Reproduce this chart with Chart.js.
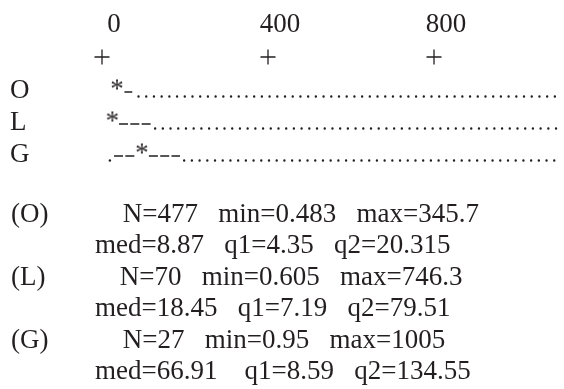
<!DOCTYPE html>
<html>
<head>
<meta charset="utf-8">
<script src="https://cdn.jsdelivr.net/npm/chart.js@4.4.1/dist/chart.umd.min.js"></script>
<style>
  html, body { margin: 0; padding: 0; background: #fff; }
  #wrap { position: relative; width: 564px; height: 389px; overflow: hidden; }
  #chart { position: absolute; left: 0; top: 0; }
  .stat {
    position: absolute;
    font-family: "Liberation Serif", "Times New Roman", serif;
    font-size: 27px;
    line-height: 27px;
    color: #231f20;
    white-space: pre;
  }
</style>
</head>
<body>
<div id="wrap">
  <canvas id="chart" width="564" height="200"></canvas>
</div>
<script>
// groups and the summary numbers printed under the plot
const groups = ['O', 'L', 'G']
const counts = [477, 70, 27]
const mins = [0.483, 0.605, 0.95]
const maxs = [345.7, 746.3, 1005]
const medians = [8.87, 18.45, 66.91]
const q1s = [4.35, 7.19, 8.59]
const q2s = [20.315, 79.51, 134.55]

// ticks of the top axis
const xTicks = [0, 400, 800]

// where the ascii marks of each row sit on that axis
const lowDot = [null, null, 19]          // leading '.'
const lowDashFrom = [null, null, 29]     // '--' before the star
const lowDashTo = [null, null, 79]
const starAt = [36, 25, 96]              // '*'
const highDashFrom = [54, 41, 113]       // '-' run after the star
const highDashTo = [73, 120, 188]
const tailFrom = [88, 128, 198]          // dotted run
const tailTo = [1108, 1108, 1108]

const INK = '#231f20'
const FONT = '"Liberation Serif", "Times New Roman", serif'
const FONT_PX = 27

// layout of the plot box
const AREA_LEFT = 60
const AREA_RIGHT = 564
const AREA_TOP = 42
const AREA_BOTTOM = 200
const ZERO_PX = 102
const PX_PER_UNIT = 0.415
const ROW_PX = 32
const FIRST_ROW_PX = 96.5
const DASH_LIFT = 4.5

const xMin = -(ZERO_PX - AREA_LEFT) / PX_PER_UNIT
const xMax = xMin + (AREA_RIGHT - AREA_LEFT) / PX_PER_UNIT
const yMin = 1 - (FIRST_ROW_PX - AREA_TOP) / ROW_PX
const yMax = yMin + (AREA_BOTTOM - AREA_TOP) / ROW_PX
const plusRow = 1 - 39.5 / ROW_PX

Chart.defaults.font.family = FONT
Chart.defaults.font.size = FONT_PX
Chart.defaults.color = INK

// the '*' glyph as a point image, baseline just under the point
function glyph(ch) {
  const c = document.createElement('canvas')
  c.width = 24
  c.height = 48
  const g = c.getContext('2d')
  g.font = FONT_PX + 'px ' + FONT
  g.fillStyle = INK
  g.textAlign = 'center'
  g.textBaseline = 'alphabetic'
  g.fillText(ch, 12, 25)
  return c
}

function segment(from, to, y) {
  return [{ x: from, y: y }, { x: to, y: y }]
}

function buildDatasets() {
  const star = glyph('*')
  const datasets = [{
    label: 'axis marks',
    data: xTicks.map(v => ({ x: v, y: plusRow })),
    pointStyle: 'cross',
    pointRadius: 7.5,
    borderColor: INK,
    borderWidth: 1.3
  }]

  groups.forEach((name, i) => {
    const row = i + 1
    const dashRow = row - DASH_LIFT / ROW_PX
    const dashStyle = {
      showLine: true, pointRadius: 0, borderColor: INK,
      borderWidth: 1.5, borderDash: [9, 2.3], borderCapStyle: 'butt'
    }

    datasets.push({
      label: name + ' tail',
      data: segment(tailFrom[i], tailTo[i], row),
      showLine: true,
      pointRadius: 0,
      borderColor: INK,
      borderWidth: 2.4,
      borderDash: [0.01, 7.7],
      borderCapStyle: 'round'
    })
    if (lowDashFrom[i] !== null) {
      datasets.push({ label: name + ' low', data: segment(lowDashFrom[i], lowDashTo[i], dashRow), ...dashStyle })
    }
    datasets.push({ label: name + ' high', data: segment(highDashFrom[i], highDashTo[i], dashRow), ...dashStyle })
    if (lowDot[i] !== null) {
      datasets.push({
        label: name + ' dot',
        data: [{ x: lowDot[i], y: row }],
        pointStyle: 'circle',
        pointRadius: 1.2,
        backgroundColor: INK,
        borderWidth: 0
      })
    }
    datasets.push({
      label: name + ' median',
      data: [{ x: starAt[i], y: row }],
      pointStyle: star,
      pointRadius: 6
    })
  })
  return datasets
}

function drawChart() {
  new Chart(document.getElementById('chart'), {
    type: 'scatter',
    data: { datasets: buildDatasets() },
    options: {
      responsive: false,
      animation: false,
      devicePixelRatio: 1,
      layout: { autoPadding: false, padding: { left: 10, right: 0, top: 0, bottom: 0 } },
      plugins: {
        legend: { display: false },
        tooltip: { enabled: false }
      },
      scales: {
        x: {
          type: 'linear',
          position: 'top',
          min: xMin,
          max: xMax,
          grid: { display: false, drawTicks: false },
          border: { display: false },
          ticks: { padding: 1, labelOffset: 12, maxRotation: 0, autoSkip: false },
          afterBuildTicks: s => { s.ticks = xTicks.map(v => ({ value: v })) },
          afterFit: s => { s.height = AREA_TOP; s.paddingLeft = 0; s.paddingRight = 0 }
        },
        y: {
          type: 'linear',
          reverse: true,
          min: yMin,
          max: yMax,
          grid: { display: false, drawTicks: false },
          border: { display: false },
          ticks: {
            crossAlign: 'far',
            padding: 0,
            labelOffset: -6,
            callback: v => groups[v - 1]
          },
          afterBuildTicks: s => { s.ticks = groups.map((g, i) => ({ value: i + 1 })) },
          afterFit: s => { s.width = AREA_LEFT - 10; s.paddingTop = 0; s.paddingBottom = 0 }
        }
      }
    }
  })
}

// caption lines under the plot
function drawStats() {
  const wrap = document.getElementById('wrap')
  const baselines = [222.5, 254, 285.5, 317, 348.5, 380]
  const medGap = [3, 3, 4]
  const sp = n => ' '.repeat(n)
  const add = (text, left, baseline) => {
    const d = document.createElement('div')
    d.className = 'stat'
    d.textContent = text
    d.style.left = left + 'px'
    d.style.top = (baseline - 22.6) + 'px'
    wrap.appendChild(d)
  }
  groups.forEach((g, i) => {
    add(`(${g})${sp(11)}N=${counts[i]}${sp(3)}min=${mins[i]}${sp(3)}max=${maxs[i]}`, 11, baselines[2 * i])
    add(`med=${medians[i]}${sp(medGap[i])}q1=${q1s[i]}${sp(3)}q2=${q2s[i]}`, 95, baselines[2 * i + 1])
  })
}

drawStats()
drawChart()
</script>
</body>
</html>
